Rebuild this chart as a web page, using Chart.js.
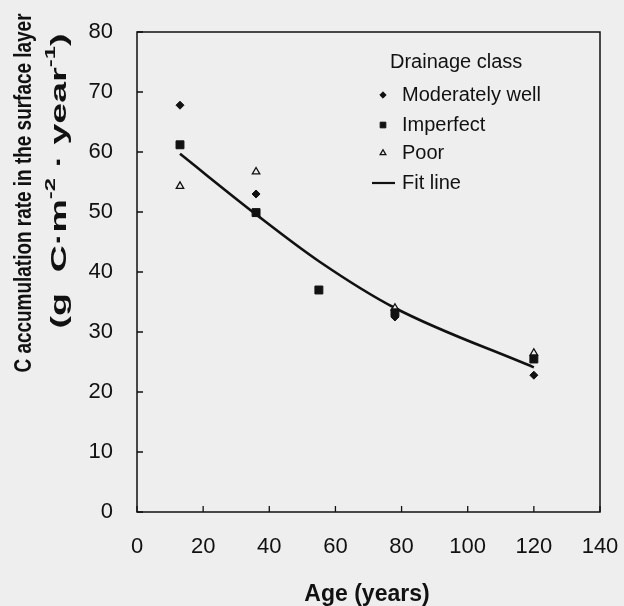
<!DOCTYPE html>
<html>
<head>
<meta charset="utf-8">
<script src="https://cdn.jsdelivr.net/npm/chart.js@4.4.1/dist/chart.umd.min.js"></script>
<style>
  html, body { margin: 0; padding: 0; background: #eeeeee; }
  canvas { display: block; }
</style>
</head>
<body>
<canvas id="c" width="624" height="606"></canvas>
<script>
// ---- data ----
const ages = [13, 36, 55, 78, 120];
const moderatelyWell = [67.8, 53.0, null, 32.5, 22.8];
const imperfect = [61.2, 49.9, 37.0, 33.2, 25.5];
const poor = [54.3, 56.7, null, 34.0, 26.5];
const fitLine = [59.7, 49.6, 41.8, 34.0, 24.1];
const xTicks = [0, 20, 40, 60, 80, 100, 120, 140];
const yTicks = [0, 10, 20, 30, 40, 50, 60, 70, 80];
const seriesNames = ['Moderately well', 'Imperfect', 'Poor', 'Fit line'];
const legendTitle = 'Drainage class';
const xTitle = 'Age (years)';
const yTitleLine1 = 'C accumulation rate in the surface layer';
const yTitleLine2 = [['(g  C\u00b7m', false], ['-2', true], [' \u00b7 year', false], ['-1', true], [')', false]];

const toPts = (ys) => ages.map((a, i) => ys[i] == null ? null : { x: a, y: ys[i] }).filter(p => p);
const INK = '#111111';
const BG = '#eeeeee';
const FONT = '"Liberation Sans", Arial, sans-serif';

const framePlugin = {
  id: 'frame',
  afterDraw(chart) {
    const { ctx, chartArea: a, scales } = chart;
    ctx.save();
    ctx.strokeStyle = INK;
    ctx.lineWidth = 1.5;
    ctx.strokeRect(a.left, a.top, a.right - a.left, a.bottom - a.top);
    ctx.lineWidth = 1.3;
    ctx.beginPath();
    scales.y.ticks.forEach(t => {
      const y = scales.y.getPixelForValue(t.value);
      ctx.moveTo(a.left, y); ctx.lineTo(a.left + 6, y);
    });
    scales.x.ticks.forEach(t => {
      const x = scales.x.getPixelForValue(t.value);
      ctx.moveTo(x, a.bottom); ctx.lineTo(x, a.bottom - 6);
    });
    ctx.stroke();

    // Y title (two lines, rotated)
    ctx.fillStyle = INK;
    ctx.textBaseline = 'middle';
    ctx.textAlign = 'left';
    const drawRot = (cx, cy, targetLen, segs, size) => {
      ctx.save();
      ctx.translate(cx, cy);
      ctx.rotate(-Math.PI / 2);
      let total = 0;
      const widths = segs.map(([t, sup]) => {
        ctx.font = 'bold ' + (sup ? Math.round(size * 0.62) : size) + 'px ' + FONT;
        const w = ctx.measureText(t).width; total += w; return w;
      });
      const s = targetLen / total;
      ctx.scale(s, 1);
      let x = -total / 2;
      segs.forEach(([t, sup], i) => {
        ctx.font = 'bold ' + (sup ? Math.round(size * 0.62) : size) + 'px ' + FONT;
        ctx.fillText(t, x, sup ? -size * 0.38 : 0);
        x += widths[i];
      });
      ctx.restore();
    };
    drawRot(25, 193, 359, [[yTitleLine1, false]], 23);
    drawRot(60, 181, 295, yTitleLine2, 22);

    // X title
    ctx.font = 'bold 23px ' + FONT;
    ctx.textAlign = 'center';
    ctx.textBaseline = 'middle';
    ctx.fillText(xTitle, 367, 595);

    // Legend
    ctx.font = '20px ' + FONT;
    ctx.textAlign = 'left';
    ctx.fillText(legendTitle, 390, 62);
    const rows = [95, 125, 153, 183];
    const mx = 383;
    chart.data.datasets.forEach((ds, i) => {
      const y = rows[i];
      ctx.fillStyle = INK;
      ctx.fillText(ds.label, 402, y);
      if (ds.type === 'line') {
        ctx.strokeStyle = INK; ctx.lineWidth = 2.2;
        ctx.beginPath(); ctx.moveTo(372, y); ctx.lineTo(395, y); ctx.stroke();
      } else {
        ctx.fillStyle = ds.backgroundColor;
        ctx.strokeStyle = ds.borderColor;
        ctx.lineWidth = ds.borderWidth;
        Chart.helpers.drawPoint(ctx, { pointStyle: ds.pointStyle, radius: ds.legendRadius, borderWidth: ds.borderWidth }, mx, y);
      }
    });
    ctx.restore();
  }
};

new Chart(document.getElementById('c'), {
  type: 'scatter',
  data: {
    datasets: [
      { label: seriesNames[0], data: toPts(moderatelyWell), pointStyle: 'rectRot', pointRadius: 4,
        backgroundColor: INK, borderColor: INK, borderWidth: 1, legendRadius: 3.2 },
      { label: seriesNames[1], data: toPts(imperfect), pointStyle: 'rect', pointRadius: 5.6,
        backgroundColor: INK, borderColor: INK, borderWidth: 1, legendRadius: 4 },
      { label: seriesNames[2], data: toPts(poor), pointStyle: 'triangle', pointRadius: 4.3,
        backgroundColor: BG, borderColor: INK, borderWidth: 1.3, legendRadius: 3.3 },
      { label: seriesNames[3], type: 'line', data: toPts(fitLine), showLine: true, pointRadius: 0,
        borderColor: INK, borderWidth: 2.6, cubicInterpolationMode: 'monotone', fill: false, order: 10 }
    ]
  },
  options: {
    responsive: false,
    animation: false,
    events: [],
    layout: { padding: { top: 32, right: 24, bottom: 0, left: 0 } },
    plugins: { legend: { display: false }, tooltip: { enabled: false } },
    scales: {
      x: {
        type: 'linear', min: 0, max: 140,
        afterBuildTicks: (s) => { s.ticks = xTicks.map(v => ({ value: v })); },
        afterFit: (s) => { s.height = 94; s.paddingLeft = 0; s.paddingRight = 0; s.paddingTop = 0; s.paddingBottom = 0; },
        ticks: { color: INK, font: { family: FONT, size: 22 }, padding: 22, maxRotation: 0 },
        grid: { display: true, drawOnChartArea: false, drawTicks: false, color: 'rgba(0,0,0,0)' },
        border: { display: false }
      },
      y: {
        type: 'linear', min: 0, max: 80,
        afterBuildTicks: (s) => { s.ticks = yTicks.map(v => ({ value: v })); },
        afterFit: (s) => { s.width = 137; s.paddingLeft = 0; s.paddingRight = 0; s.paddingTop = 0; s.paddingBottom = 0; },
        ticks: { color: INK, font: { family: FONT, size: 22 }, padding: 24 },
        grid: { display: true, drawOnChartArea: false, drawTicks: false, color: 'rgba(0,0,0,0)' },
        border: { display: false }
      }
    }
  },
  plugins: [framePlugin]
});
</script>
</body>
</html>
